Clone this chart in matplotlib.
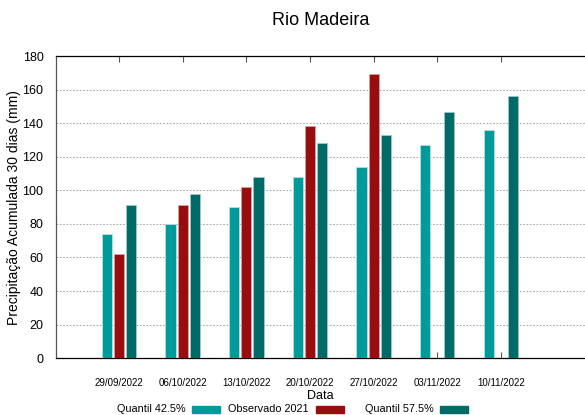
import numpy as np
import matplotlib.pyplot as plt
from matplotlib.patches import Rectangle

plt.rcParams['font.family'] = ['Liberation Sans', 'DejaVu Sans']

datas       = ["29/09/2022", "06/10/2022", "13/10/2022", "20/10/2022",
               "27/10/2022", "03/11/2022", "10/11/2022"]
quantil_425 = [74, 80, 90, 108, 114, 127, 136]
observado   = [62, 91, 102, 138.5, 169, np.nan, np.nan]
quantil_575 = [91, 98, 108, 128, 133, 146.5, 156]
series_nomes = ["Quantil 42.5%", "Observado 2021", "Quantil 57.5%"]

C_Q425 = "#009a9a"
C_OBS  = "#980e0e"
C_Q575 = "#006a66"
cores = [C_Q425, C_OBS, C_Q575]

W, H = 585, 415
fig = plt.figure(figsize=(W / 100, H / 100), dpi=100)
ax = fig.add_axes([0.0957, 0.137, 0.9043, 0.728])

x = np.arange(len(datas))
w = 0.16
off = 0.19
ax.bar(x - off, quantil_425, w, color=C_Q425, edgecolor="#b8e0e0", linewidth=0.6, zorder=3)
ax.bar(x, observado, w, color=C_OBS, edgecolor="#d8a0a0", linewidth=0.6, zorder=3)
ax.bar(x + off, quantil_575, w, color=C_Q575, edgecolor="#a0c8c6", linewidth=0.6, zorder=3)

ax.set_xlim(-0.99, 7.32)
ax.set_ylim(0, 180)
ax.set_yticks(range(0, 181, 20))
ax.set_xticks(x)
ax.set_xticklabels(datas, fontsize=7)
ax.tick_params(axis="x", direction="in", top=True, length=4, pad=14, color="#555555")
ax.tick_params(axis="y", length=0, pad=9, labelsize=9)
ax.grid(axis="y", linestyle=(0, (1.5, 1.5)), color="#aaaaaa", linewidth=0.8, zorder=0)

ax.spines["right"].set_visible(False)
for s in ["left", "top", "bottom"]:
    ax.spines[s].set_linewidth(0.9)
ax.spines["left"].set_color("#555555")

ax.set_title("Rio Madeira", fontsize=13, pad=22)
ax.set_ylabel("Precipitação Acumulada 30 dias (mm)", fontsize=10, labelpad=1)
ax.set_xlabel("Data", fontsize=9, labelpad=2)

# legenda manual: texto à esquerda, amostra de cor à direita
txt_right = [186, 309, 434]
patch_x   = [192, 316, 440]
y_leg = 409
for nome, cor, tx, px in zip(series_nomes, cores, txt_right, patch_x):
    fig.text(tx / W, 1 - y_leg / H, nome, ha="right", va="center", fontsize=7.8)
    fig.patches.append(Rectangle((px / W, 1 - (y_leg + 3.5) / H), 28 / W, 7 / H,
                                 transform=fig.transFigure, color=cor))

fig.savefig("out.png", dpi=100)
